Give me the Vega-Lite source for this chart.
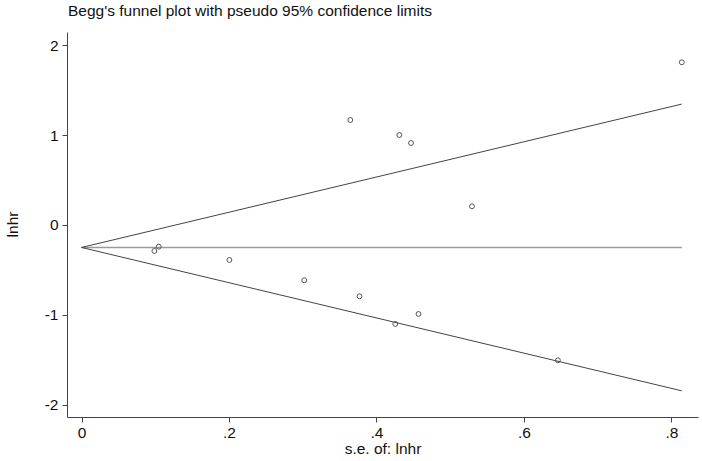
{
  "$schema": "https://vega.github.io/schema/vega-lite/v6.json",
  "width": 631,
  "height": 385,
  "autosize": {"type": "none"},
  "padding": {"left": 67, "top": 32, "right": 4, "bottom": 44},
  "background": "white",
  "config": {
    "font": "Liberation Sans",
    "view": {"stroke": null},
    "axis": {"grid": false, "domainColor": "#444", "tickColor": "#444", "labelColor": "#111", "titleColor": "#111", "labelFontSize": 15.5, "titleFontSize": 15.5, "titleFontWeight": "normal", "tickSize": 5, "domainWidth": 1, "tickWidth": 1}
  },
  "title": {"text": "Begg's funnel plot with pseudo 95% confidence limits", "anchor": "start", "frame": "group", "fontSize": 15.5, "fontWeight": "normal", "color": "#111", "offset": 13, "dx": 1},
  "datasets": {
    "studies": [
      {"se": 0.0988, "lnhr": -0.289},
      {"se": 0.1047, "lnhr": -0.241},
      {"se": 0.2005, "lnhr": -0.389},
      {"se": 0.302, "lnhr": -0.615},
      {"se": 0.3645, "lnhr": 1.168},
      {"se": 0.377, "lnhr": -0.793},
      {"se": 0.4255, "lnhr": -1.101},
      {"se": 0.431, "lnhr": 1.001},
      {"se": 0.4468, "lnhr": 0.912},
      {"se": 0.457, "lnhr": -0.99},
      {"se": 0.5295, "lnhr": 0.208},
      {"se": 0.646, "lnhr": -1.505},
      {"se": 0.814, "lnhr": 1.81}
    ],
    "limits": [
      {"se": 0, "lnhr": -0.25, "line": "upper"},
      {"se": 0.814, "lnhr": 1.345, "line": "upper"},
      {"se": 0, "lnhr": -0.25, "line": "lower"},
      {"se": 0.814, "lnhr": -1.845, "line": "lower"}
    ],
    "center": [
      {"se": 0, "lnhr": -0.25},
      {"se": 0.814, "lnhr": -0.25}
    ]
  },
  "layer": [
    {
      "data": {"name": "center"},
      "mark": {"type": "line", "color": "#9a9a9a", "strokeWidth": 1.5},
      "encoding": {
        "x": {"field": "se", "type": "quantitative"},
        "y": {"field": "lnhr", "type": "quantitative"}
      }
    },
    {
      "data": {"name": "limits"},
      "mark": {"type": "line", "color": "#444", "strokeWidth": 1},
      "encoding": {
        "x": {"field": "se", "type": "quantitative"},
        "y": {"field": "lnhr", "type": "quantitative"},
        "detail": {"field": "line"}
      }
    },
    {
      "data": {"name": "studies"},
      "mark": {"type": "point", "shape": "circle", "filled": false, "color": "#555", "size": 24, "strokeWidth": 1, "opacity": 1},
      "encoding": {
        "x": {"field": "se", "type": "quantitative", "scale": {"domain": [-0.0197, 0.836], "nice": false, "zero": false},
          "axis": {"values": [0, 0.2, 0.4, 0.6, 0.8], "labelExpr": "replace(format(datum.value, '.1~f'), '0.', '.')", "title": "s.e. of: lnhr", "titlePadding": 1, "labelPadding": 3}},
        "y": {"field": "lnhr", "type": "quantitative", "scale": {"domain": [-2.136, 2.147], "nice": false, "zero": false},
          "axis": {"values": [-2, -1, 0, 1, 2], "labelExpr": "toString(datum.value)", "title": "lnhr", "titleX": -55, "titleY": 192, "titleAngle": -90, "titleAlign": "center", "titleBaseline": "middle", "labelPadding": 4}}
      }
    }
  ]
}
